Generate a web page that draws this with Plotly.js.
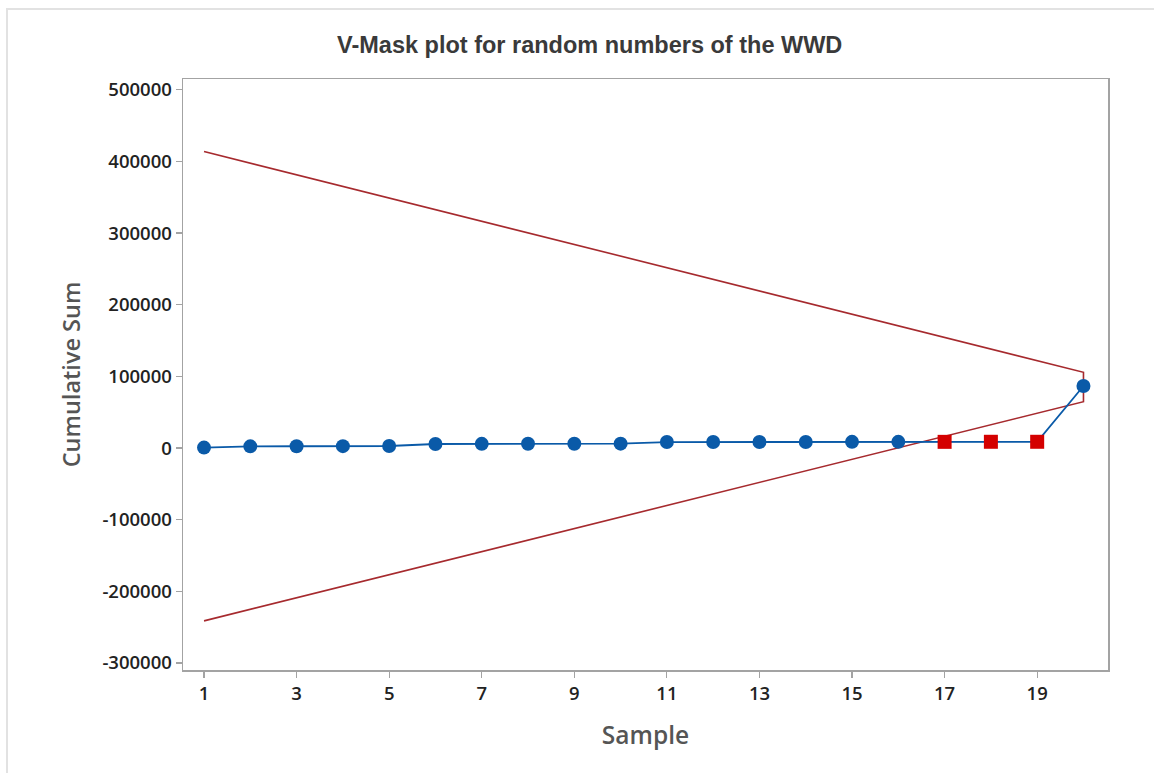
<!DOCTYPE html>
<html>
<head>
<meta charset="utf-8">
<script src="https://cdn.plot.ly/plotly-3.0.1.min.js"></script>
<style>
  html, body { margin: 0; padding: 0; background: #ffffff; }
  #frame { position: absolute; left: 6px; top: 8px; width: 1148px; height: 765px;
           border-top: 2px solid #e2e2e2; border-left: 2px solid #e2e2e2; }
  #chart { position: absolute; left: 0; top: 0; width: 1154px; height: 773px; }
</style>
</head>
<body>
<div id="frame"></div>
<div id="chart"></div>
<script>
// Samples and cumulative sums
const samples = [1, 2, 3, 4, 5, 6, 7, 8, 9, 10, 11, 12, 13, 14, 15, 16, 17, 18, 19, 20];
const cusum = [600, 2300, 2500, 2600, 2800, 5600, 5800, 5900, 6000, 6100,
               8300, 8400, 8500, 8500, 8600, 8600, 8600, 8700, 8700, 86600];
// Points flagged outside the V-mask
const flaggedSamples = [17, 18, 19];

// V-mask outline (upper arm, vertical at last sample, lower arm)
const maskX = [1, 20, 20, 1];
const maskY = [413800, 105700, 64700, -241200];

// Tick labels
const xTickVals = [1, 3, 5, 7, 9, 11, 13, 15, 17, 19];
const yTickVals = [-300000, -200000, -100000, 0, 100000, 200000, 300000, 400000, 500000];
const yTickText = ["-300000", "-200000", "-100000", "0", "100000", "200000", "300000", "400000", "500000"];

const okX = [], okY = [], badX = [], badY = [];
samples.forEach((s, i) => {
  if (flaggedSamples.includes(s)) { badX.push(s); badY.push(cusum[i]); }
  else { okX.push(s); okY.push(cusum[i]); }
});

const blue = '#0a5aa8';
const traces = [
  { x: maskX, y: maskY, mode: 'lines', line: { color: '#a62a2e', width: 1.6 }, hoverinfo: 'skip' },
  { x: samples, y: cusum, mode: 'lines', line: { color: blue, width: 1.8 } },
  { x: okX, y: okY, mode: 'markers', marker: { color: blue, size: 14, symbol: 'circle' } },
  { x: badX, y: badY, mode: 'markers', marker: { color: '#d40000', size: 14, symbol: 'square' } }
];

const axisCommon = {
  showline: true, mirror: true, linecolor: '#a3a3a3', linewidth: 1.5,
  ticks: 'outside', ticklen: 6, tickcolor: '#a3a3a3', tickwidth: 1.2,
  showgrid: false, zeroline: false,
  tickfont: { family: 'Open Sans, Noto Sans, sans-serif', size: 18.5, color: '#222222', weight: 600 }
};

const layout = {
  width: 1154, height: 773,
  paper_bgcolor: 'rgba(0,0,0,0)', plot_bgcolor: '#ffffff',
  showlegend: false,
  margin: { l: 183, r: 46, t: 79, b: 103 },
  title: {
    text: 'V-Mask plot for random numbers of the WWD',
    x: 0.511, xref: 'container', xanchor: 'center',
    y: 0.942, yref: 'container', yanchor: 'middle',
    font: { family: 'Liberation Sans, Arial, sans-serif', size: 23.5, color: '#3a3a3a', weight: 'bold' }
  },
  xaxis: Object.assign({}, axisCommon, {
    range: [0.546, 20.53],
    tickvals: xTickVals,
    title: { text: 'Sample', standoff: 23,
             font: { family: 'Open Sans, Noto Sans, sans-serif', size: 24.5, color: '#555555', weight: 600 } }
  }),
  yaxis: Object.assign({}, axisCommon, {
    range: [-309800, 515000],
    tickvals: yTickVals, ticktext: yTickText,
    title: { text: 'Cumulative Sum', standoff: 15,
             font: { family: 'Open Sans, Noto Sans, sans-serif', size: 23.5, color: '#555555', weight: 600 } }
  })
};

Plotly.newPlot('chart', traces, layout, { displayModeBar: false, staticPlot: true });
</script>
</body>
</html>
